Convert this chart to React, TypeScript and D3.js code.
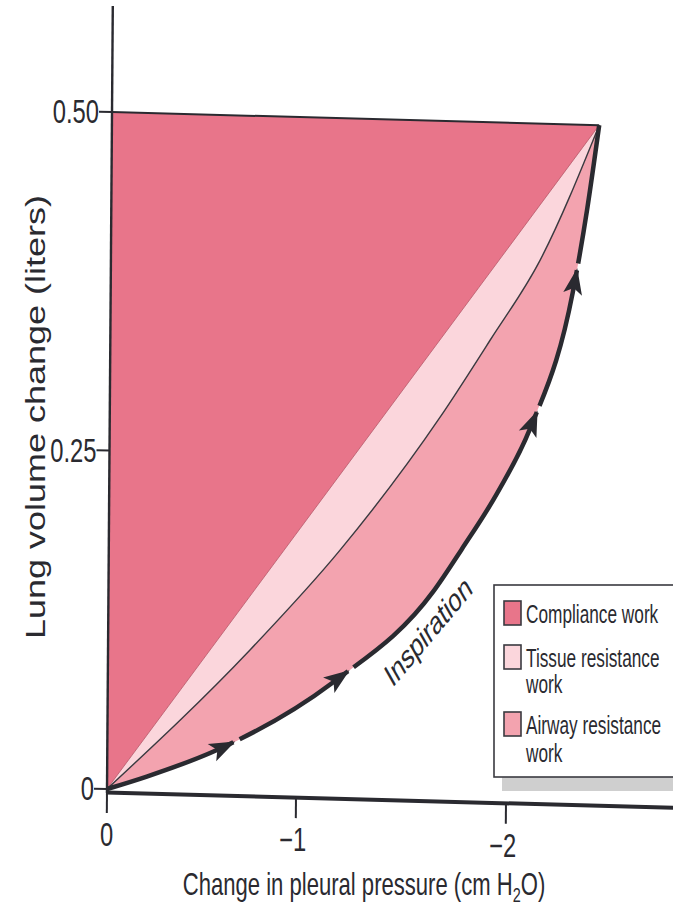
import React, { useLayoutEffect, useRef, useState } from "react";
import * as d3 from "d3";

// ---- data ----
const xTicks = [0, -1, -2];
const xTickLabels = ["0", "\u22121", "\u22122"];
const yTicks = [0, 0.25, 0.5];
const yTickLabels = ["0", "0.25", "0.50"];

const peakPressure = -2.42;
const peakVolume = 0.5;

// thick "Inspiration" curve (airway resistance boundary)
const inspPressure = [0, -0.21, -0.58, -1.17, -1.645, -1.78, -1.95, -2.1, -2.3, -2.365, -2.42];
const inspVolume = [0, 0.01, 0.031, 0.083, 0.152, 0.184, 0.227, 0.274, 0.376, 0.437, 0.5];

// thin curve (tissue resistance boundary)
const tissuePressure = [0, -0.751, -1.201, -1.672, -1.908, -2.143, -2.42];
const tissueVolume = [0, 0.1055, 0.181, 0.281, 0.339, 0.399, 0.5];

// arrow tips along the inspiration curve
const arrowPressures = [-0.667, -1.243, -2.133, -2.319];

const legendLabels = [["Compliance work"], ["Tissue resistance", "work"], ["Airway resistance", "work"]];
const legendColors = ["#e8758a", "#fbd6dc", "#f3a3af"];

const W = 673;
const H = 914;
const SX = 0.69; // horizontal squeeze of the scanned figure
const FONT = "'Liberation Sans', Arial, Helvetica, sans-serif";
const INK = "#2a2a30";

// scan distortion (slight shear)
const SKEW = "matrix(1,0.027,-0.0074,1,5.84,-2.89)";
const sk = (px: number, py: number): [number, number] => [px - 0.0074 * py + 5.84, 0.027 * px + py - 2.89];

export default function App() {
  const x = d3.scaleLinear().domain([0, -1, -2]).range([107, 296, 506]);
  const y = d3.scaleLinear().domain([0, 0.5]).range([789, 112]);

  const line = d3.line<[number, number]>().curve(d3.curveMonotoneX);
  const insp: [number, number][] = inspPressure.map((p, i) => [x(p), y(inspVolume[i])]);
  const tis: [number, number][] = tissuePressure.map((p, i) => [x(p), y(tissueVolume[i])]);
  const thickD = line(insp) as string;
  const thinD = line(tis) as string;

  const o: [number, number] = [x(0), y(0)];
  const top: [number, number] = [x(0), y(peakVolume)];
  const peak: [number, number] = [x(peakPressure), y(peakVolume)];
  const complianceD = `M${o[0]},${o[1]}L${top[0]},${top[1]}L${peak[0]},${peak[1]}Z`;

  const thickRef = useRef<SVGPathElement>(null);
  const [arrows, setArrows] = useState<{ x: number; y: number; a: number; len: number }[]>([]);
  const [dash, setDash] = useState<string>("none");

  useLayoutEffect(() => {
    const p = thickRef.current;
    if (!p) return;
    const L = p.getTotalLength();
    const findLen = (px: number) => {
      let lo = 0,
        hi = L;
      for (let k = 0; k < 40; k++) {
        const mid = (lo + hi) / 2;
        if (p.getPointAtLength(mid).x < px) lo = mid;
        else hi = mid;
      }
      return (lo + hi) / 2;
    };
    const arr = arrowPressures.map((pr) => {
      const len = findLen(x(pr));
      const a = p.getPointAtLength(len);
      const b = p.getPointAtLength(Math.max(0, len - 2));
      return { x: a.x, y: a.y, a: (Math.atan2(a.y - b.y, a.x - b.x) * 180) / Math.PI, len };
    });
    const G = 7;
    const parts: number[] = [];
    let prev = 0;
    arr.forEach((ar) => {
      parts.push(ar.len - prev, G);
      prev = ar.len + G;
    });
    parts.push(L - prev + 10, 0);
    setArrows(arr);
    setDash(parts.join(","));
  }, []);

  const squeezed = (tx: number, ty: number, extra = "") => `translate(${tx},${ty}) scale(${SX},1)${extra}`;

  return (
    <svg width={W} height={H} style={{ position: "absolute", left: 0, top: 0, background: "#fff" }} fontFamily={FONT}>
      <rect x={0} y={0} width={W} height={H} fill="#fff" />
      <g transform={SKEW}>
        {/* regions */}
        <path d={`${thickD}Z`} fill={legendColors[2]} />
        <path d={`${thinD}Z`} fill={legendColors[1]} />
        <path d={complianceD} fill={legendColors[0]} />
        <path d={`M${o[0]},${o[1]}L${peak[0]},${peak[1]}`} stroke="#a84a5c" strokeWidth={0.9} strokeOpacity={0.7} fill="none" />
        <path d={thinD} stroke="#3a3a40" strokeWidth={1.4} fill="none" />
        <path d={`M${top[0]},${top[1]}L${peak[0]},${peak[1]}`} stroke={INK} strokeWidth={2} fill="none" />
        {/* thick inspiration curve with gaps after arrows */}
        <path ref={thickRef} d={thickD} stroke={INK} strokeWidth={4.5} fill="none" strokeDasharray={dash} strokeLinecap="butt" />
        {arrows.map((ar, i) => (
          <path key={i} d="M2,0 L-24,-9.5 L-18,0 L-24,9.5 Z" fill={INK} transform={`translate(${ar.x},${ar.y}) rotate(${ar.a})`} />
        ))}

        {/* axes */}
        <line x1={x(0)} x2={x(0)} y1={6} y2={y(0) + 4} stroke={INK} strokeWidth={2.4} />
        <line x1={x(0) - 1} x2={705} y1={y(0) + 3.5} y2={y(0) + 3.5} stroke={INK} strokeWidth={4} />
        {yTicks.map((t) => (
          <line key={t} x1={x(0) - 13} x2={x(0)} y1={y(t)} y2={y(t)} stroke={INK} strokeWidth={2} />
        ))}
        {xTicks.map((t) => (
          <line key={t} x1={x(t)} x2={x(t)} y1={y(0) + 4} y2={y(0) + 24} stroke={INK} strokeWidth={2} />
        ))}
      </g>

      {/* tick labels */}
      {yTicks.map((t, i) => {
        const [px, py] = sk(x(0), y(t));
        return (
          <text key={t} transform={`translate(${px - 13},${py}) scale(0.72,1)`} textAnchor="end" dominantBaseline="central" fontSize={33} fill={INK}>
            {yTickLabels[i]}
          </text>
        );
      })}
      {xTicks.map((t, i) => {
        const [px, py] = sk(x(t) - (i === 0 ? 0 : 3), y(0) + 46);
        return (
          <text key={t} transform={`translate(${px},${py}) scale(0.72,1)`} textAnchor="middle" dominantBaseline="central" fontSize={33} fill={INK}>
            {xTickLabels[i]}
          </text>
        );
      })}

      {/* axis titles */}
      <text transform={squeezed(364, 895)} textAnchor="middle" fontSize={32} fill={INK}>
        Change in pleural pressure (cm H<tspan fontSize={21} dy={7}>2</tspan>
        <tspan dy={-7}>O)</tspan>
      </text>
      <text transform={`translate(36,417) scale(0.76,1) rotate(-90)`} textAnchor="middle" dominantBaseline="central" fontSize={36} fill={INK}>
        Lung volume change (liters)
      </text>

      {/* Inspiration label */}
      <text transform={`translate(428,631) scale(${SX},1) rotate(-39.4)`} textAnchor="middle" dominantBaseline="central" fontSize={33} fill={INK}>
        Inspiration
      </text>

      {/* legend */}
      <rect x={502} y={777} width={200} height={14} fill="#cfcfcf" />
      <rect x={494} y={585} width={210} height={192} fill="#fff" stroke="#3a3a40" strokeWidth={1.6} />
      {legendLabels.map((lines, i) => {
        const sy = [601, 645, 712][i];
        const by = [[623], [667, 693], [734, 762]][i];
        return (
          <g key={i}>
            <rect x={504} y={sy} width={17} height={24} fill={legendColors[i]} stroke="#3a3a40" strokeWidth={1.6} />
            {lines.map((ln, j) => (
              <text key={j} transform={squeezed(526, by[j])} fontSize={25} fill={INK}>
                {ln}
              </text>
            ))}
          </g>
        );
      })}
    </svg>
  );
}
